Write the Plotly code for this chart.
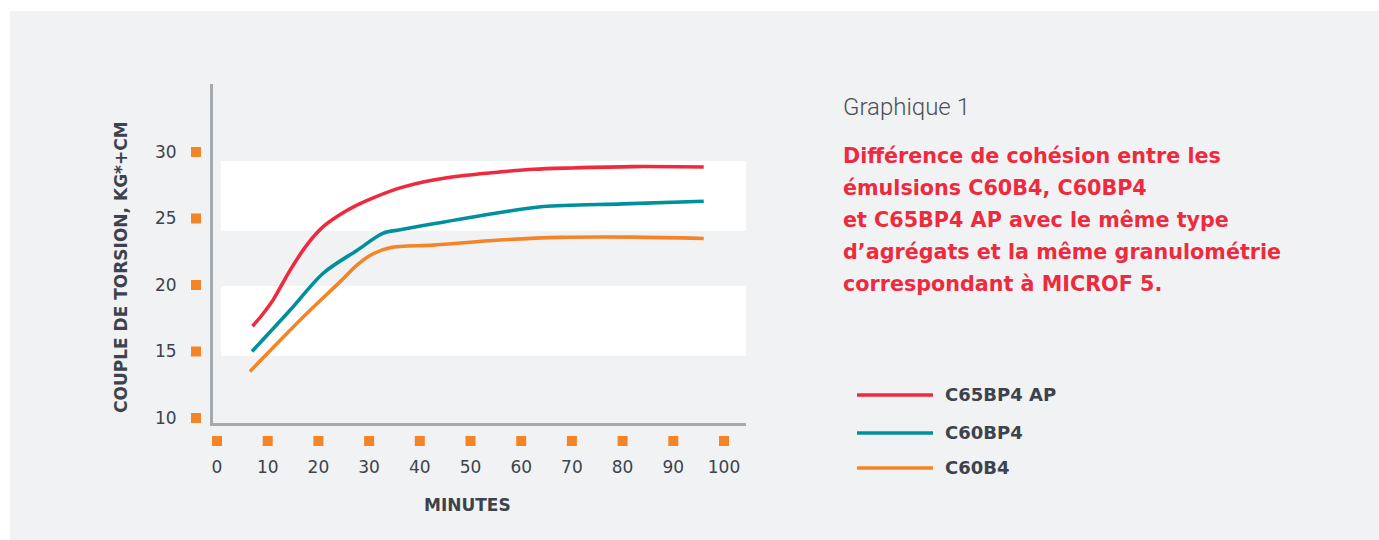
import plotly.graph_objects as go

# --- data -------------------------------------------------------------
minutes_c65bp4ap = [7, 9, 11.1, 14.4, 17.7, 21, 24.3, 27.6, 30.8, 36.1, 42.7, 49.2, 55.8, 62.4, 70, 82, 96]
torque_c65bp4ap = [16.9, 17.8, 18.9, 21.1, 23.0, 24.4, 25.3, 26.0, 26.55, 27.3, 27.9, 28.25, 28.5, 28.7, 28.8, 28.9, 28.87]

minutes_c60bp4 = [6.9, 14.4, 21, 27.6, 32.8, 36.1, 42.7, 55.8, 64.4, 80, 96]
torque_c60bp4 = [15.0, 18.1, 20.9, 22.6, 23.9, 24.15, 24.6, 25.45, 25.9, 26.1, 26.3]

minutes_c60b4 = [6.5, 17.7, 24.3, 27.6, 30.8, 34.1, 42.7, 55.8, 67.7, 82, 96]
torque_c60b4 = [13.5, 17.85, 20.25, 21.5, 22.35, 22.8, 23.0, 23.38, 23.58, 23.6, 23.5]

x_ticks = [0, 10, 20, 30, 40, 50, 60, 70, 80, 90, 100]
y_ticks = [10, 15, 20, 25, 30]

# white horizontal bands behind the curves (torque ranges)
bands = [(24.08, 29.32), (14.68, 19.92)]

series_names = ["C65BP4 AP", "C60BP4", "C60B4"]
series_colors = ["#ee2a3e", "#00909d", "#f58426"]

title_small = "Graphique 1"
title_lines = [
    "Différence de cohésion entre les",
    "émulsions C60B4, C60BP4",
    "et C65BP4 AP avec le même type",
    "d’agrégats et la même granulométrie",
    "correspondant à MICROF 5.",
]

# --- layout geometry (pixels) -----------------------------------------
W, H = 1379, 540
PL, PR, PT, PB = 213, 746, 84, 423          # plot-area edges
X_RANGE = [-0.79, 104.34]
Y_RANGE = [9.624, 35.11]

def fx(xp):
    return xp / W

def fy(yp):
    return 1 - yp / H

# an overlay axis pair spanning the whole figure with the same scale,
# used for the square tick markers that sit outside the plot area
kx = (X_RANGE[1] - X_RANGE[0]) / (PR - PL)
ky = (Y_RANGE[1] - Y_RANGE[0]) / (PB - PT)
X2_RANGE = [X_RANGE[0] - PL * kx, X_RANGE[0] + (W - PL) * kx]
Y2_RANGE = [Y_RANGE[0] - (H - PB) * ky, Y_RANGE[0] + PB * ky]

FONT = "Roboto"
BOLD = "DejaVu Sans"
TXT = "#3d434c"
ORANGE = "#f58426"

fig = go.Figure()

for xs, ys, name, col in [
    (minutes_c65bp4ap, torque_c65bp4ap, series_names[0], series_colors[0]),
    (minutes_c60bp4, torque_c60bp4, series_names[1], series_colors[1]),
    (minutes_c60b4, torque_c60b4, series_names[2], series_colors[2]),
]:
    fig.add_trace(go.Scatter(
        x=xs, y=ys, mode="lines", name=name,
        line=dict(color=col, width=3.6, shape="spline", smoothing=0.9),
        showlegend=False, hoverinfo="skip",
    ))

# orange square tick markers along both axes
fig.add_trace(go.Scatter(
    x=[-4.14] * len(y_ticks), y=y_ticks, mode="markers", xaxis="x2", yaxis="y2",
    marker=dict(symbol="square", size=10, color=ORANGE, line=dict(width=0)),
    showlegend=False, hoverinfo="skip",
))
fig.add_trace(go.Scatter(
    x=x_ticks, y=[8.27] * len(x_ticks), mode="markers", xaxis="x2", yaxis="y2",
    marker=dict(symbol="square", size=10, color=ORANGE, line=dict(width=0)),
    showlegend=False, hoverinfo="skip",
))

shapes = [
    # grey panel
    dict(type="rect", xref="paper", yref="paper", x0=fx(10), x1=1.01,
         y0=-0.01, y1=fy(11), fillcolor="#f1f2f4", line=dict(width=0), layer="below"),
]
for lo, hi in bands:
    shapes.append(dict(type="rect", xref="x", yref="y", x0=0.8, x1=X_RANGE[1], y0=lo, y1=hi,
                       fillcolor="white", line=dict(width=0), layer="below"))

annotations = []
# legend
leg_y = [395, 433, 468]
for name, col, yy in zip(series_names, series_colors, leg_y):
    shapes.append(dict(type="line", xref="paper", yref="paper", x0=fx(857), x1=fx(933),
                       y0=fy(yy), y1=fy(yy), line=dict(color=col, width=3.6)))
    annotations.append(dict(xref="paper", yref="paper", x=fx(943), y=fy(yy - 1), text=name,
                            showarrow=False, xanchor="left", yanchor="middle",
                            font=dict(family=BOLD, size=18, color=TXT, weight="bold")))

# titles
annotations.append(dict(xref="paper", yref="paper", x=fx(841), y=fy(107), text=title_small,
                        showarrow=False, xanchor="left", yanchor="middle",
                        font=dict(family=FONT, size=24, color="#4a4f57", weight=300)))
for i, line in enumerate(title_lines):
    annotations.append(dict(xref="paper", yref="paper", x=fx(841), y=fy(156 + 32 * i), text=line,
                            showarrow=False, xanchor="left", yanchor="middle",
                            font=dict(family=BOLD, size=20.7, color="#ee2a3e", weight="bold")))

# axis titles
annotations.append(dict(xref="paper", yref="paper", x=fx(121), y=fy(267),
                        text="COUPLE DE TORSION, KG*+CM", textangle=-90, showarrow=False,
                        xanchor="center", yanchor="middle",
                        font=dict(family=BOLD, size=17, color=TXT, weight="bold")))
annotations.append(dict(xref="paper", yref="paper", x=fx(467), y=fy(505),
                        text="MINUTES", showarrow=False, xanchor="center", yanchor="middle",
                        font=dict(family=BOLD, size=17, color=TXT, weight="bold")))

fig.update_layout(
    template="none",
    width=W, height=H, autosize=False,
    margin=dict(l=0, r=0, t=0, b=0, pad=0),
    paper_bgcolor="white", plot_bgcolor="rgba(0,0,0,0)",
    shapes=shapes, annotations=annotations,
    xaxis=dict(domain=[fx(PL), fx(PR)], anchor="y", range=X_RANGE, showgrid=False,
               zeroline=False, showline=True, linecolor="#a4aaae", linewidth=3,
               tickmode="array", tickvals=x_ticks, ticks="", ticklabelstandoff=27,
               automargin=False,
               tickfont=dict(family=BOLD, size=17, color=TXT), fixedrange=True),
    yaxis=dict(domain=[fy(PB), fy(PT)], anchor="x", range=Y_RANGE, showgrid=False,
               zeroline=False, showline=True, linecolor="#a4aaae", linewidth=3,
               tickmode="array", tickvals=y_ticks, ticks="", ticklabelstandoff=30,
               automargin=False,
               tickfont=dict(family=BOLD, size=17, color=TXT), fixedrange=True),
    xaxis2=dict(domain=[0, 1], anchor="y2", range=X2_RANGE, visible=False,
                automargin=False, fixedrange=True),
    yaxis2=dict(domain=[0, 1], anchor="x2", range=Y2_RANGE, visible=False,
                automargin=False, fixedrange=True),
    showlegend=False,
)

fig.write_html("out.html", config={"displayModeBar": False})
